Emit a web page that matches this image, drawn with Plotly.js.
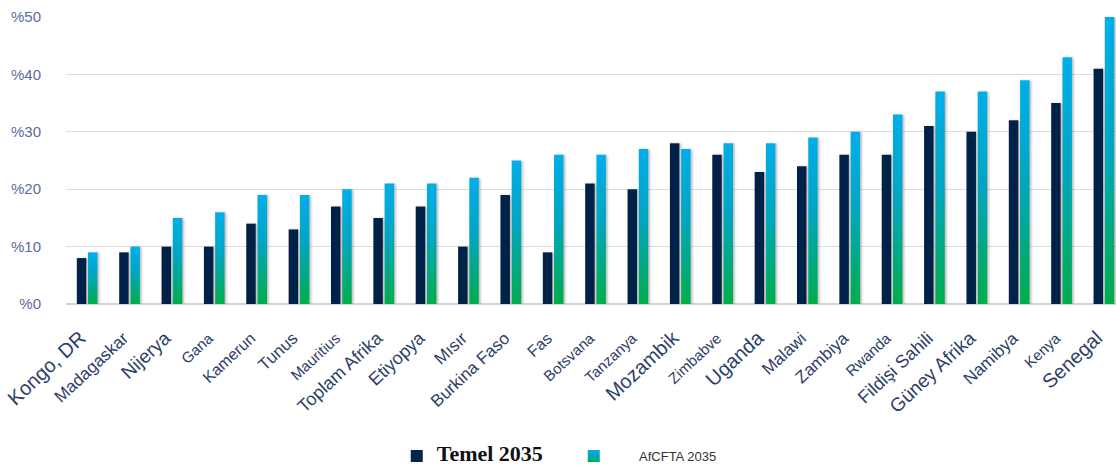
<!DOCTYPE html>
<html>
<head>
<meta charset="utf-8">
<script src="https://cdn.plot.ly/plotly-3.0.1.min.js"></script>
<style>
  html, body { margin: 0; padding: 0; background: #fff; }
  #chart { width: 1116px; height: 471px; }
</style>
</head>
<body>
<div id="chart"></div>
<script>
// ---- data ----
const countries = [
  "Kongo, DR", "Madagaskar", "Nijerya", "Gana", "Kamerun", "Tunus", "Mauritius",
  "Toplam Afrika", "Etiyopya", "Mısır", "Burkina Faso", "Fas", "Botsvana",
  "Tanzanya", "Mozambik", "Zimbabve", "Uganda", "Malawi", "Zambiya", "Rwanda",
  "Fildişi Sahili", "Güney Afrika", "Namibya", "Kenya", "Senegal"
];
const temel2035 = [8, 9, 10, 10, 14, 13, 17, 15, 17, 10, 19, 9, 21, 20, 28, 26, 23, 24, 26, 26, 31, 30, 32, 35, 41];
const afcfta2035 = [9, 10, 15, 16, 19, 19, 20, 21, 21, 22, 25, 26, 26, 27, 27, 28, 28, 29, 30, 33, 37, 37, 39, 43, 50];
const seriesNames = ["Temel 2035", "AfCFTA 2035"];
const yTicks = [0, 10, 20, 30, 40, 50];
const yTickLabels = yTicks.map(v => '%' + v);

// ---- styles (not data) ----
const labelSizes = [20, 17, 19, 15, 16, 17, 15, 18, 18, 17, 17, 16, 15, 15, 20, 15, 20, 17, 17, 15, 18, 19, 17, 15, 20];
const tickText = countries.map((c, i) => '<span style="font-size:' + labelSizes[i] + 'px">' + c + '</span>');
const pad = '\u00a0'.repeat(7);

const traces = [
  {
    type: 'bar', x: countries, y: temel2035,
    name: '<span style="font-family:\'Liberation Serif\', \'Times New Roman\', serif;font-size:22px;font-weight:bold;fill:#111">' + seriesNames[0] + '</span>',
    marker: { color: '#00244a' }
  },
  {
    type: 'bar', x: countries, y: afcfta2035,
    name: '<span style="font-size:13px;fill:#333">' + pad + seriesNames[1] + '</span>',
    marker: { color: '#00aee6' }
  }
];

const layout = {
  width: 1116, height: 471,
  margin: { l: 66, r: 0, t: 17, b: 167 },
  paper_bgcolor: '#fff', plot_bgcolor: '#fff',
  barmode: 'group', bargap: 0.47, bargroupgap: 0.15,
  showlegend: true,
  legend: {
    orientation: 'h', x: 0.315, xanchor: 'left', y: -0.53, yanchor: 'middle',
    font: { family: 'Liberation Sans, Arial, sans-serif', size: 13, color: '#333' },
    traceorder: 'normal', entrywidth: 132, entrywidthmode: 'pixels'
  },
  font: { family: 'Liberation Sans, Arial, sans-serif' },
  xaxis: {
    type: 'category', range: [-0.5, 24.285],
    tickmode: 'array', tickvals: countries, ticktext: tickText,
    tickangle: -43, ticklabelstandoff: 20, ticklabelshift: -6,
    tickfont: { size: 17, color: '#2c4068' },
    showgrid: false, showline: false, ticks: ''
  },
  yaxis: {
    range: [0, 50], tickmode: 'array', tickvals: yTicks, ticktext: yTickLabels,
    tickfont: { size: 15, color: '#5b6a9e' },
    showgrid: true, gridcolor: '#dcdcdc', gridwidth: 1.2,
    zeroline: true, zerolinecolor: '#d4d4d4', zerolinewidth: 1.5,
    showline: false, ticks: '', ticklabelstandoff: 24
  }
};

Plotly.newPlot('chart', traces, layout, { displayModeBar: false, staticPlot: true }).then(gd => {
  const svg = gd.querySelector('svg.main-svg');
  const defs = svg.querySelector('defs');
  const NS = 'http://www.w3.org/2000/svg';
  const grad = document.createElementNS(NS, 'linearGradient');
  grad.setAttribute('id', 'afGrad');
  grad.setAttribute('x1', '0'); grad.setAttribute('y1', '0');
  grad.setAttribute('x2', '0'); grad.setAttribute('y2', '1');
  [['0%', '#00aeea'], ['45%', '#00a6bf'], ['100%', '#00ad4c']].forEach(([o, c]) => {
    const s = document.createElementNS(NS, 'stop');
    s.setAttribute('offset', o); s.setAttribute('stop-color', c);
    grad.appendChild(s);
  });
  defs.appendChild(grad);
  const filt = document.createElementNS(NS, 'filter');
  filt.setAttribute('id', 'barShadow');
  filt.setAttribute('x', '-50%'); filt.setAttribute('y', '-10%');
  filt.setAttribute('width', '200%'); filt.setAttribute('height', '120%');
  const ds = document.createElementNS(NS, 'feDropShadow');
  ds.setAttribute('dx', '1.5'); ds.setAttribute('dy', '0.5');
  ds.setAttribute('stdDeviation', '0.8');
  ds.setAttribute('flood-color', '#777'); ds.setAttribute('flood-opacity', '0.55');
  filt.appendChild(ds);
  defs.appendChild(filt);

  const barTraces = gd.querySelectorAll('.barlayer .trace');
  barTraces.forEach((t, ti) => {
    t.querySelectorAll('.point path').forEach(p => {
      if (ti === 1) p.style.fill = 'url(#afGrad)';
      p.setAttribute('filter', 'url(#barShadow)');
    });
  });
  const legTraces = gd.querySelectorAll('.legend .traces');
  if (legTraces[1]) {
    legTraces[1].querySelectorAll('.legendpoints path').forEach(p => { p.style.fill = 'url(#afGrad)'; });
  }
});
</script>
</body>
</html>
